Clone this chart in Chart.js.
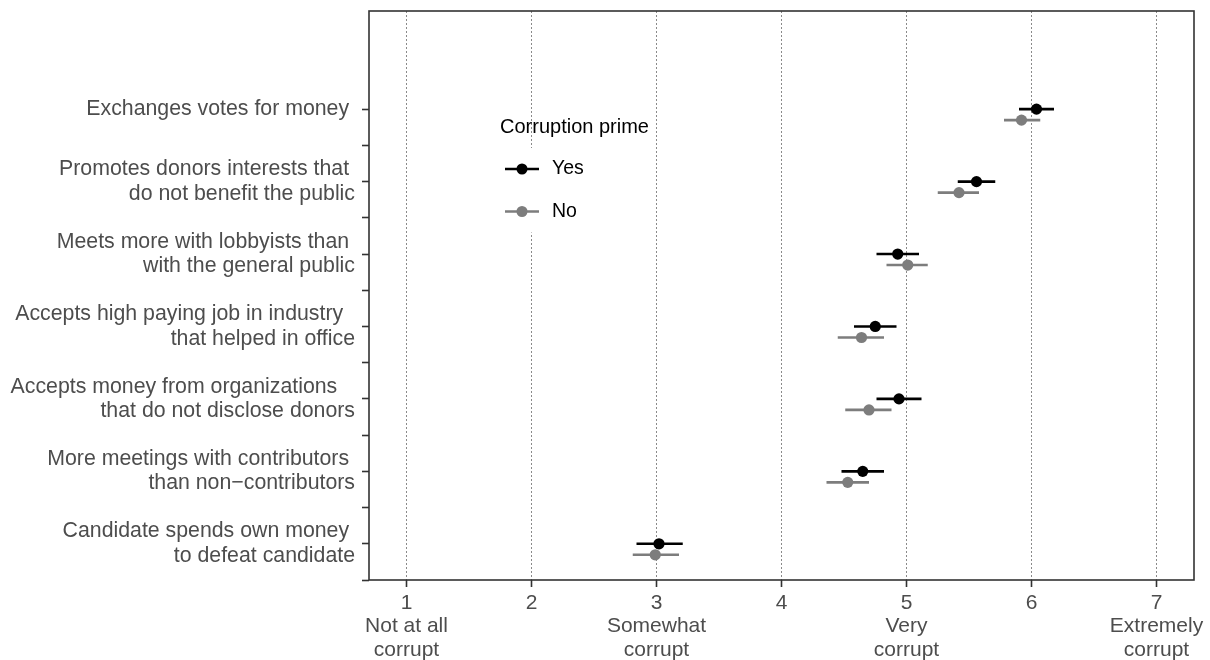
<!DOCTYPE html>
<html>
<head>
<meta charset="utf-8">
<script src="https://cdn.jsdelivr.net/npm/chart.js@4/dist/chart.umd.min.js"></script>
<style>
  html, body { margin: 0; padding: 0; background: #ffffff; }
  #wrap { width: 1210px; height: 660px; }
</style>
</head>
<body>
<div id="wrap"><canvas id="chart" width="1210" height="660"></canvas></div>
<script>
// Survey items, listed top to bottom
const categories = [
  ["Exchanges votes for money "],
  ["Promotes donors interests that ", "do not benefit the public"],
  ["Meets more with lobbyists than ", "with the general public"],
  ["Accepts high paying job in industry  ", "that helped in office"],
  ["Accepts money from organizations   ", "that do not disclose donors"],
  ["More meetings with contributors ", "than non\u2212contributors"],
  ["Candidate spends own money ", "to defeat candidate"]
];

// Mean rating and 95% interval, corruption prime = Yes
const yesMean = [6.04, 5.56, 4.93, 4.75, 4.94, 4.65, 3.02];
const yesLow  = [5.90, 5.41, 4.76, 4.58, 4.76, 4.48, 2.84];
const yesHigh = [6.18, 5.71, 5.10, 4.92, 5.12, 4.82, 3.21];

// Mean rating and 95% interval, corruption prime = No
const noMean = [5.92, 5.42, 5.01, 4.64, 4.70, 4.53, 2.99];
const noLow  = [5.78, 5.25, 4.84, 4.45, 4.51, 4.36, 2.81];
const noHigh = [6.07, 5.58, 5.17, 4.82, 4.88, 4.70, 3.18];

// Rating scale labels for 1..7
const scaleLabels = [
  ["1", "Not at all", "corrupt"],
  ["2"],
  ["3", "Somewhat", "corrupt"],
  ["4"],
  ["5", "Very", "corrupt"],
  ["6"],
  ["7", "Extremely", "corrupt"]
];

const groupNames = ["Yes", "No"];
const legendTitle = "Corruption prime";

const FONT = "'Liberation Sans', Arial, Helvetica, sans-serif";
const N = categories.length;
const DODGE = 0.152; // vertical shift of the "No" row below its item

function rows(mean, low, high, shift) {
  return mean.map((m, i) => ({ x: m, y: N - i - shift, lo: low[i], hi: high[i] }));
}

const YES_COLOR = "#000000";
const NO_COLOR = "#7d7d7d";

// Horizontal interval lines drawn under the points
const intervalPlugin = {
  id: "intervals",
  beforeDatasetsDraw(chart) {
    const { ctx, scales: { x, y } } = chart;
    ctx.save();
    chart.data.datasets.forEach(ds => {
      ctx.strokeStyle = ds.backgroundColor;
      ctx.lineWidth = 2.6;
      ctx.lineCap = "butt";
      ds.data.forEach(p => {
        const py = y.getPixelForValue(p.y);
        ctx.beginPath();
        ctx.moveTo(x.getPixelForValue(p.lo), py);
        ctx.lineTo(x.getPixelForValue(p.hi), py);
        ctx.stroke();
      });
    });
    ctx.restore();
  }
};

// Panel frame around the plotting area
const framePlugin = {
  id: "frame",
  afterDraw(chart) {
    const { ctx, chartArea: a } = chart;
    ctx.save();
    ctx.strokeStyle = "#333333";
    ctx.lineWidth = 1.6;
    ctx.strokeRect(a.left, a.top, a.right - a.left, a.bottom - a.top);
    ctx.restore();
  }
};

// Legend inside the panel
const legendPlugin = {
  id: "insideLegend",
  afterDatasetsDraw(chart) {
    const ctx = chart.ctx;
    ctx.save();
    ctx.textBaseline = "middle";
    ctx.textAlign = "left";
    ctx.fillStyle = "#000000";
    ctx.font = "20px " + FONT;
    ctx.fillText(legendTitle, 500, 127);
    chart.data.datasets.forEach((ds, i) => {
      const cy = 169 + i * 42.5;
      ctx.fillStyle = "#ffffff";
      ctx.fillRect(499, cy - 21, 44, 42);
      ctx.strokeStyle = ds.backgroundColor;
      ctx.lineWidth = 2.6;
      ctx.beginPath();
      ctx.moveTo(505, cy);
      ctx.lineTo(539, cy);
      ctx.stroke();
      ctx.fillStyle = ds.backgroundColor;
      ctx.beginPath();
      ctx.arc(522, cy, 5.5, 0, Math.PI * 2);
      ctx.fill();
      ctx.fillStyle = "#000000";
      ctx.font = "19.5px " + FONT;
      ctx.fillText(ds.label, 552, cy);
    });
    ctx.restore();
  }
};

new Chart(document.getElementById("chart"), {
  type: "scatter",
  data: {
    datasets: [
      {
        label: groupNames[0],
        data: rows(yesMean, yesLow, yesHigh, 0),
        backgroundColor: YES_COLOR,
        pointRadius: 5.6,
        pointHoverRadius: 5.6,
        pointBorderWidth: 0
      },
      {
        label: groupNames[1],
        data: rows(noMean, noLow, noHigh, DODGE),
        backgroundColor: NO_COLOR,
        pointRadius: 5.6,
        pointHoverRadius: 5.6,
        pointBorderWidth: 0
      }
    ]
  },
  options: {
    responsive: false,
    animation: false,
    events: [],
    layout: { padding: { top: 11, right: 16, left: 0, bottom: 0 } },
    plugins: {
      legend: { display: false },
      tooltip: { enabled: false }
    },
    scales: {
      x: {
        type: "linear",
        min: 0.7,
        max: 7.3,
        afterBuildTicks: s => { s.ticks = scaleLabels.map((_, i) => ({ value: i + 1 })); },
        ticks: {
          callback: v => scaleLabels[v - 1],
          autoSkip: false,
          maxRotation: 0,
          color: "#4d4d4d",
          padding: 4,
          font: { family: FONT, size: 21, lineHeight: 1.13 }
        },
        grid: {
          color: "#8a8a8a",
          lineWidth: 1,
          drawTicks: true,
          tickLength: 7,
          tickColor: "#333333",
          tickWidth: 1.6
        },
        border: { display: false, dash: [2, 2] },
        afterFit: s => { s.height = 80; s.paddingLeft = 0; s.paddingRight = 0; }
      },
      y: {
        type: "linear",
        min: 0.5,
        max: 8.355,
        afterBuildTicks: s => {
          const t = [];
          for (let k = 1; k <= 2 * N; k++) t.push({ value: k / 2 });
          s.ticks = t;
        },
        ticks: {
          callback: v => (Number.isInteger(v) ? categories[N - v] : ""),
          autoSkip: false,
          color: "#4d4d4d",
          padding: 7,
          font: { family: FONT, size: 21.3, lineHeight: 1.15 }
        },
        grid: {
          drawOnChartArea: false,
          drawTicks: true,
          tickLength: 7,
          tickColor: "#333333",
          tickWidth: 1.6
        },
        border: { display: false },
        afterFit: s => { s.width = 369; s.paddingTop = 0; s.paddingBottom = 0; }
      }
    }
  },
  plugins: [intervalPlugin, legendPlugin, framePlugin]
});
</script>
</body>
</html>
